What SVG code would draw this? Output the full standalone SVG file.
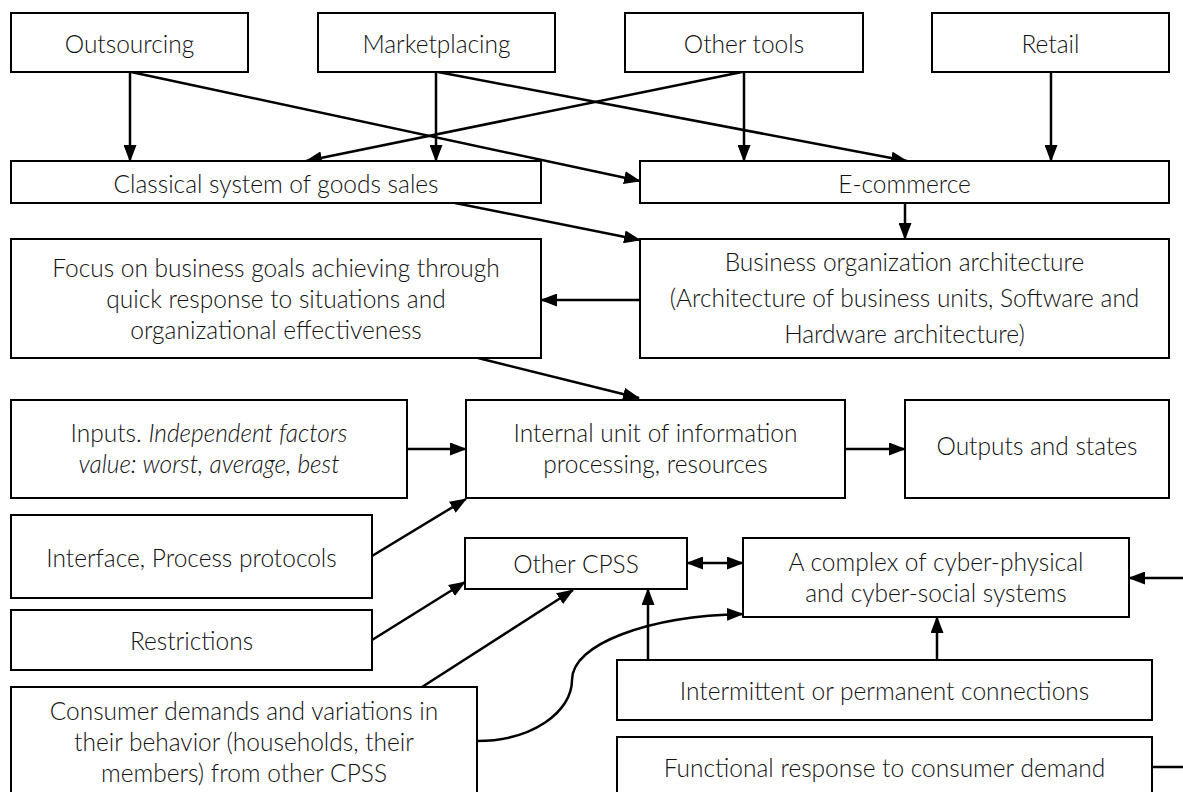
<svg xmlns="http://www.w3.org/2000/svg" width="1183" height="792" viewBox="0 0 1183 792">
<style>
.box{fill:#fff;stroke:#000;stroke-width:2}
.t{font-family:Lato,"Liberation Sans",sans-serif;font-size:24.5px;font-weight:300;fill:#111;text-anchor:middle}
.i{font-style:italic}
.c{fill:none;stroke:#000;stroke-width:2.5}
</style>
<defs>
<marker id="ah" markerUnits="userSpaceOnUse" viewBox="0 0 17 13" markerWidth="17" markerHeight="13" refX="16" refY="6.5" orient="auto-start-reverse">
<path d="M0,0 L17,6.5 L0,13 z" fill="#000"/>
</marker>
</defs>
<g id="connectors">
<line class="c" x1="130" y1="72" x2="130" y2="161" marker-end="url(#ah)"/>
<line class="c" x1="131" y1="72" x2="640" y2="181" marker-end="url(#ah)"/>
<line class="c" x1="436" y1="72" x2="436" y2="161" marker-end="url(#ah)"/>
<line class="c" x1="438" y1="72" x2="907" y2="161" marker-end="url(#ah)"/>
<line class="c" x1="742" y1="72" x2="306" y2="161" marker-end="url(#ah)"/>
<line class="c" x1="744" y1="72" x2="744" y2="161" marker-end="url(#ah)"/>
<line class="c" x1="1051" y1="72" x2="1051" y2="161" marker-end="url(#ah)"/>
<line class="c" x1="455" y1="203" x2="640" y2="240" marker-end="url(#ah)"/>
<line class="c" x1="905" y1="203" x2="905" y2="239" marker-end="url(#ah)"/>
<line class="c" x1="640" y1="300" x2="541" y2="300" marker-end="url(#ah)"/>
<line class="c" x1="478" y1="358" x2="639" y2="398" marker-end="url(#ah)"/>
<line class="c" x1="407" y1="449" x2="466" y2="449" marker-end="url(#ah)"/>
<line class="c" x1="845" y1="449" x2="905" y2="449" marker-end="url(#ah)"/>
<line class="c" x1="372" y1="556" x2="466" y2="499" marker-end="url(#ah)"/>
<line class="c" x1="372" y1="640" x2="465" y2="582" marker-end="url(#ah)"/>
<line class="c" x1="422" y1="687" x2="573" y2="590" marker-end="url(#ah)"/>
<line class="c" x1="648" y1="660" x2="648" y2="589" marker-end="url(#ah)"/>
<line class="c" x1="937" y1="660" x2="937" y2="617" marker-end="url(#ah)"/>
<line class="c" x1="687" y1="563" x2="743" y2="563" marker-start="url(#ah)" marker-end="url(#ah)"/>
<path class="c" d="M477,741 C532,741 572,712 572,680 C572,644 648,616 743,614" marker-end="url(#ah)"/>
<path class="c" d="M1152,767 H1200 V578 H1129" marker-end="url(#ah)"/>
</g>
<g id="outsourcing"><rect class="box" x="11" y="13" width="237" height="59"/><text class="t" x="129.5" y="53">Outsourcing</text></g>
<g id="marketplacing"><rect class="box" x="318" y="13" width="237" height="59"/><text class="t" x="436.5" y="53">Marketplacing</text></g>
<g id="other-tools"><rect class="box" x="625" y="13" width="238" height="59"/><text class="t" x="744" y="53">Other tools</text></g>
<g id="retail"><rect class="box" x="932" y="13" width="237" height="59"/><text class="t" x="1050.5" y="53">Retail</text></g>
<g id="classical"><rect class="box" x="11" y="161" width="530" height="42"/><text class="t" x="276" y="193">Classical system of goods sales</text></g>
<g id="ecommerce"><rect class="box" x="640" y="161" width="529" height="42"/><text class="t" x="904.5" y="193">E-commerce</text></g>
<g id="focus"><rect class="box" x="11" y="239" width="530" height="119"/>
<text class="t" x="276" y="277">Focus on business goals achieving through</text>
<text class="t" x="276" y="308">quick response to situations and</text>
<text class="t" x="276" y="339">organizational effectiveness</text></g>
<g id="business-org"><rect class="box" x="640" y="239" width="529" height="119"/>
<text class="t" x="904.5" y="271">Business organization architecture</text>
<text class="t" x="904.5" y="307">(Architecture of business units, Software and</text>
<text class="t" x="904.5" y="343">Hardware architecture)</text></g>
<g id="inputs"><rect class="box" x="11" y="400" width="396" height="98"/>
<text class="t" x="209" y="442">Inputs. <tspan class="i">Independent factors</tspan></text>
<text class="t i" x="209" y="473">value: worst, average, best</text></g>
<g id="internal"><rect class="box" x="466" y="400" width="379" height="98"/>
<text class="t" x="655.5" y="442">Internal unit of information</text>
<text class="t" x="655.5" y="473">processing, resources</text></g>
<g id="outputs"><rect class="box" x="905" y="400" width="264" height="98"/><text class="t" x="1037" y="455">Outputs and states</text></g>
<g id="interface"><rect class="box" x="11" y="515" width="361" height="83"/><text class="t" x="191.5" y="567">Interface, Process protocols</text></g>
<g id="restrictions"><rect class="box" x="11" y="610" width="361" height="60"/><text class="t" x="191.5" y="650">Restrictions</text></g>
<g id="other-cpss"><rect class="box" x="465" y="538" width="222" height="51"/><text class="t" x="576" y="573">Other CPSS</text></g>
<g id="complex"><rect class="box" x="743" y="538" width="386" height="79"/>
<text class="t" x="936" y="571">A complex of cyber-physical</text>
<text class="t" x="936" y="602">and cyber-social systems</text></g>
<g id="intermittent"><rect class="box" x="617" y="660" width="535" height="60"/><text class="t" x="884.5" y="700">Intermittent or permanent connections</text></g>
<g id="functional"><rect class="box" x="617" y="737" width="535" height="70"/><text class="t" x="884.5" y="777">Functional response to consumer demand</text></g>
<g id="consumer"><rect class="box" x="11" y="687" width="466" height="120"/>
<text class="t" x="244" y="720">Consumer demands and variations in</text>
<text class="t" x="244" y="751">their behavior (households, their</text>
<text class="t" x="244" y="782">members) from other CPSS</text></g>
</svg>
